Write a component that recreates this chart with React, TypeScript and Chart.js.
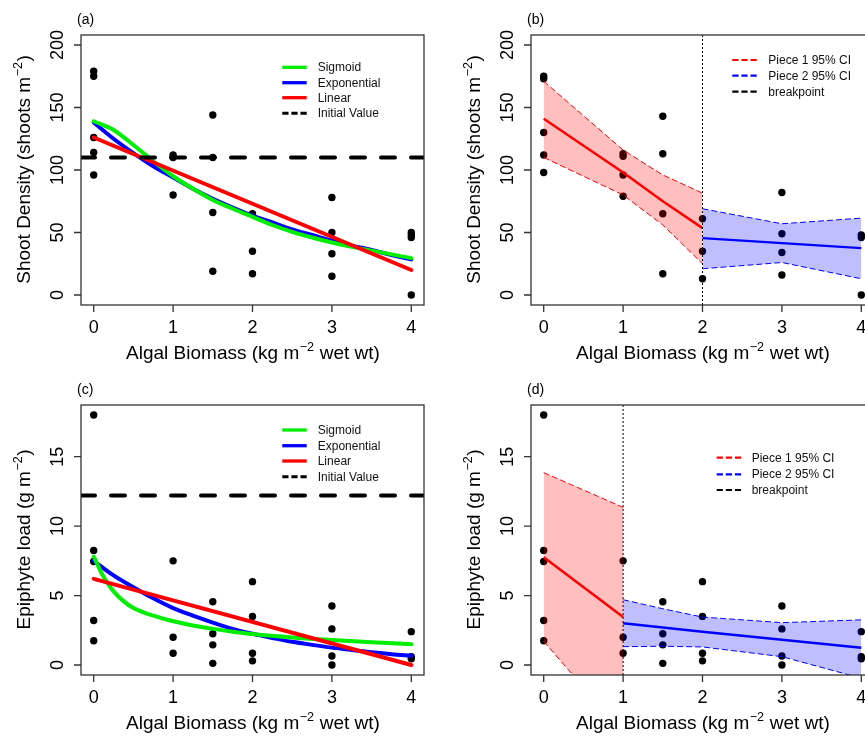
import { useEffect, useRef } from "react";
import { Chart, registerables } from "chart.js";

Chart.register(...registerables);

const FONT = '"Liberation Sans", Arial, Helvetica, sans-serif';
const RED = "#ff0000";
const BLUE = "#0000ff";
const GREEN = "#00ee00";
const RED_FILL = "rgba(255,0,0,0.25)";
const BLUE_FILL = "rgba(0,0,255,0.25)";

// Algal biomass axis (kg m^-2 wet wt)
const xTicks = [0, 1, 2, 3, 4];
const X_MIN = -0.16;
const X_MAX = 4.16;

// Shoot density axis
const shootTicks = [0, 50, 100, 150, 200];
const SHOOT_MIN = -8;
const SHOOT_MAX = 208;

// Epiphyte load axis
const epiTicks = [0, 5, 10, 15];
const EPI_MIN = -0.72;
const EPI_MAX = 18.72;

// Starting values before algal addition
const initialShoot = 110;
const initialEpi = 12.2;

// (a) observed shoot density
const shootObsX_a = [0, 0, 0, 0, 0, 1, 1, 1, 1.5, 1.5, 1.5, 1.5, 2, 2, 2, 3, 3, 3, 3, 4, 4, 4, 4];
const shootObsY_a = [179, 175, 126, 114, 96, 112, 110, 80, 144, 110, 66, 19, 65, 35, 17, 78, 50, 33, 15, 50, 48, 46, 0];

// (a) fitted curves
const curveX = [0, 0.25, 0.5, 0.75, 1, 1.25, 1.5, 1.75, 2, 2.25, 2.5, 2.75, 3, 3.25, 3.5, 3.75, 4];
const shootSigmoid = [139, 132, 120, 107, 95, 85, 76, 69, 62.5, 56, 50.5, 46, 42, 38.5, 35.5, 32.5, 29.5];
const shootExponential = [138, 125, 113.5, 103, 94, 85, 77, 70, 63.5, 58, 52.5, 48, 43.5, 39.5, 36, 32, 28.5];
const linearX = [0, 4];
const shootLinear = [126, 20];

// (b) observed shoot density
const shootObsX_b = [0, 0, 0, 0, 0, 1, 1, 1, 1, 1.5, 1.5, 1.5, 1.5, 2, 2, 2, 3, 3, 3, 3, 4, 4, 4];
const shootObsY_b = [175, 173, 130, 112, 98, 113, 111, 96, 79, 143, 113, 65, 17, 61, 35, 13, 82, 49, 34, 16, 48, 46, 0];

// (b) piecewise regression, breakpoint at 2
const shootBreak = 2;
const shootP1X = [0, 1, 1.5, 2];
const shootP1Fit = [141, 98, 75, 53.5];
const shootP1Upper = [171, 116, 96, 81.5];
const shootP1Lower = [110, 80, 56, 25];
const shootP2X = [2, 3, 4];
const shootP2Fit = [45.5, 41.5, 37.5];
const shootP2Upper = [69, 57, 61.5];
const shootP2Lower = [21, 26, 13];

// (c, d) observed epiphyte load
const epiObsX = [0, 0, 0, 0, 0, 1, 1, 1, 1.5, 1.5, 1.5, 1.5, 2, 2, 2, 2, 3, 3, 3, 3, 4, 4, 4];
const epiObsY = [18, 8.25, 7.45, 3.2, 1.75, 7.5, 2.0, 0.85, 4.55, 2.25, 1.45, 0.12, 6.0, 3.5, 0.85, 0.3, 4.25, 2.6, 0.65, 0, 2.4, 0.6, 0.45];

// (c) fitted curves
const epiSigmoidX = [0, 0.05, 0.1, 0.175, 0.25, 0.375, 0.5, 0.75, 1, 1.25, 1.5, 1.75, 2, 2.5, 3, 3.5, 4];
const epiSigmoid = [7.8, 7.2, 6.6, 5.9, 5.3, 4.6, 4.1, 3.55, 3.15, 2.85, 2.6, 2.4, 2.23, 1.98, 1.8, 1.64, 1.5];
const epiExponential = [7.5, 6.45, 5.6, 4.8, 4.1, 3.55, 3.05, 2.6, 2.25, 1.95, 1.67, 1.45, 1.25, 1.08, 0.92, 0.78, 0.67];
const epiLinear = [6.2, 0];

// (d) piecewise regression, breakpoint at 1
const epiBreak = 1;
const epiP1X = [0, 1];
const epiP1Fit = [7.75, 3.45];
const epiP1Upper = [13.85, 11.35];
const epiP1Lower = [1.7, -4.9];
const epiP2X = [1, 1.5, 2, 3, 4];
const epiP2Fit = [3.0, 2.7, 2.4, 1.82, 1.25];
const epiP2Upper = [4.7, 4.05, 3.45, 3.05, 3.25];
const epiP2Lower = [1.32, 1.35, 1.3, 0.6, -0.95];

const pts = (xs: number[], ys: number[]) => xs.map((x, i) => ({ x, y: ys[i] }));

type LegendItem = { label: string; color: string; dash: number[]; width: number };
type PanelSpec = {
  tag: string;
  yMin: number;
  yMax: number;
  yTicks: number[];
  yTitle: [string, string, string];
  datasets: any[];
  legend: LegendItem[];
  legendX: number;
  legendTextX: number;
  legendRows: number[];
  left: number;
  top: number;
};

const X_TITLE: [string, string, string] = ["Algal Biomass (kg m", "\u22122", " wet wt)"];
const SHOOT_TITLE: [string, string, string] = ["Shoot Density (shoots m", "\u22122", ")"];
const EPI_TITLE: [string, string, string] = ["Epiphyte load (g m", "\u22122", ")"];

const modelLegend: LegendItem[] = [
  { label: "Sigmoid", color: GREEN, dash: [], width: 3.3 },
  { label: "Exponential", color: BLUE, dash: [], width: 3.3 },
  { label: "Linear", color: RED, dash: [], width: 3.3 },
  { label: "Initial Value", color: "#000", dash: [6.2, 2.9], width: 3 },
];
const pieceLegend: LegendItem[] = [
  { label: "Piece 1 95% CI", color: RED, dash: [6.2, 2.9], width: 2.2 },
  { label: "Piece 2 95% CI", color: BLUE, dash: [6.2, 2.9], width: 2.2 },
  { label: "breakpoint", color: "#000", dash: [6.2, 2.9], width: 2.2 },
];

function observed(xs: number[], ys: number[]) {
  return {
    label: "Observed",
    data: pts(xs, ys),
    showLine: false,
    pointRadius: 3.7,
    pointBackgroundColor: "#000",
    pointBorderWidth: 0,
    order: 10,
  };
}

function curve(label: string, xs: number[], ys: number[], color: string, order: number, smooth: boolean) {
  return {
    label,
    data: pts(xs, ys),
    showLine: true,
    borderColor: color,
    borderWidth: 4,
    borderCapStyle: "round",
    borderJoinStyle: "round",
    pointRadius: 0,
    cubicInterpolationMode: smooth ? "monotone" : "default",
    tension: 0,
    order,
  };
}

function hline(value: number) {
  return {
    label: "Initial Value",
    data: pts([X_MIN, X_MAX], [value, value]),
    showLine: true,
    borderColor: "#000",
    borderWidth: 4,
    borderDash: [14, 16],
    borderCapStyle: "round",
    pointRadius: 0,
    clip: 0,
    order: 0,
  };
}

function vline(x: number, lo: number, hi: number) {
  return {
    label: "breakpoint",
    data: pts([x, x], [lo, hi]),
    showLine: true,
    borderColor: "#000",
    borderWidth: 1,
    borderDash: [2, 2],
    pointRadius: 0,
    clip: 0,
    order: 0,
  };
}

function piece(xs: number[], fit: number[], upper: number[], lower: number[], color: string, fill: string) {
  return [
    {
      label: "upper",
      data: pts(xs, upper),
      showLine: true,
      borderColor: color,
      borderWidth: 1,
      borderDash: [6, 3],
      backgroundColor: fill,
      fill: "+1",
      pointRadius: 0,
      clip: 0,
      order: 5,
    },
    {
      label: "lower",
      data: pts(xs, lower),
      showLine: true,
      borderColor: color,
      borderWidth: 1,
      borderDash: [6, 3],
      fill: false,
      pointRadius: 0,
      clip: 0,
      order: 4,
    },
    {
      label: "fit",
      data: pts(xs, fit),
      showLine: true,
      borderColor: color,
      borderWidth: 2.5,
      pointRadius: 0,
      clip: 0,
      order: 1,
    },
  ];
}

const panels: PanelSpec[] = [
  {
    tag: "(a)",
    yMin: SHOOT_MIN,
    yMax: SHOOT_MAX,
    yTicks: shootTicks,
    yTitle: SHOOT_TITLE,
    datasets: [
      hline(initialShoot),
      curve("Linear", linearX, shootLinear, RED, 1, false),
      curve("Sigmoid", curveX, shootSigmoid, GREEN, 2, true),
      curve("Exponential", curveX, shootExponential, BLUE, 3, true),
      observed(shootObsX_a, shootObsY_a),
    ],
    legend: modelLegend,
    legendX: 282.3,
    legendTextX: 317.7,
    legendRows: [67.3, 82.7, 97.7, 113.3],
    left: 0,
    top: 0,
  },
  {
    tag: "(b)",
    yMin: SHOOT_MIN,
    yMax: SHOOT_MAX,
    yTicks: shootTicks,
    yTitle: SHOOT_TITLE,
    datasets: [
      vline(shootBreak, SHOOT_MIN, SHOOT_MAX),
      ...piece(shootP1X, shootP1Fit, shootP1Upper, shootP1Lower, RED, RED_FILL),
      ...piece(shootP2X, shootP2Fit, shootP2Upper, shootP2Lower, BLUE, BLUE_FILL),
      observed(shootObsX_b, shootObsY_b),
    ],
    legend: pieceLegend,
    legendX: 282.3,
    legendTextX: 318.3,
    legendRows: [60, 75.7, 91.7],
    left: 450,
    top: 0,
  },
  {
    tag: "(c)",
    yMin: EPI_MIN,
    yMax: EPI_MAX,
    yTicks: epiTicks,
    yTitle: EPI_TITLE,
    datasets: [
      hline(initialEpi),
      curve("Linear", linearX, epiLinear, RED, 1, false),
      curve("Sigmoid", epiSigmoidX, epiSigmoid, GREEN, 2, true),
      curve("Exponential", curveX, epiExponential, BLUE, 3, true),
      observed(epiObsX, epiObsY),
    ],
    legend: modelLegend,
    legendX: 282.3,
    legendTextX: 317.7,
    legendRows: [60, 75.7, 91, 106.7],
    left: 0,
    top: 370,
  },
  {
    tag: "(d)",
    yMin: EPI_MIN,
    yMax: EPI_MAX,
    yTicks: epiTicks,
    yTitle: EPI_TITLE,
    datasets: [
      vline(epiBreak, EPI_MIN, EPI_MAX),
      ...piece(epiP1X, epiP1Fit, epiP1Upper, epiP1Lower, RED, RED_FILL),
      ...piece(epiP2X, epiP2Fit, epiP2Upper, epiP2Lower, BLUE, BLUE_FILL),
      observed(epiObsX, epiObsY),
    ],
    legend: pieceLegend,
    legendX: 266.7,
    legendTextX: 301.7,
    legendRows: [87.7, 104.3, 120],
    left: 450,
    top: 370,
  },
];

const CANVAS_W = 432;
const CANVAS_H = 366;

// Title with a raised "-2" exponent, centred on (0,0) of the current transform
function drawSupTitle(ctx: CanvasRenderingContext2D, parts: [string, string, string]) {
  const big = `19px ${FONT}`;
  const small = `12.5px ${FONT}`;
  ctx.font = big;
  const w1 = ctx.measureText(parts[0]).width;
  const w3 = ctx.measureText(parts[2]).width;
  ctx.font = small;
  const w2 = ctx.measureText(parts[1]).width;
  let x = -(w1 + w2 + w3) / 2;
  ctx.textAlign = "left";
  ctx.textBaseline = "alphabetic";
  ctx.font = big;
  ctx.fillText(parts[0], x, 0);
  x += w1;
  ctx.font = small;
  ctx.fillText(parts[1], x + 0.5, -8.5);
  x += w2 + 1;
  ctx.font = big;
  ctx.fillText(parts[2], x, 0);
}

function makeDecor(spec: PanelSpec) {
  return {
    id: "panelDecor",
    afterDatasetsDraw(chart: any) {
      const { ctx, chartArea: a, scales } = chart;
      const xs = scales.x;
      const ys = scales.y;
      ctx.save();
      ctx.setLineDash([]);
      ctx.strokeStyle = "#333";
      ctx.fillStyle = "#000";
      ctx.lineWidth = 1.3;
      ctx.strokeRect(a.left, a.top, a.right - a.left, a.bottom - a.top);

      // x axis ticks and labels
      ctx.beginPath();
      for (const v of xTicks) {
        const p = xs.getPixelForValue(v);
        ctx.moveTo(p, a.bottom);
        ctx.lineTo(p, a.bottom + 7);
      }
      ctx.stroke();
      ctx.font = `18px ${FONT}`;
      ctx.textAlign = "center";
      ctx.textBaseline = "alphabetic";
      for (const v of xTicks) {
        ctx.fillText(String(v), xs.getPixelForValue(v), a.bottom + 28.3);
      }

      // y axis ticks and rotated labels
      ctx.beginPath();
      for (const v of spec.yTicks) {
        const p = ys.getPixelForValue(v);
        ctx.moveTo(a.left, p);
        ctx.lineTo(a.left - 7, p);
      }
      ctx.stroke();
      for (const v of spec.yTicks) {
        ctx.save();
        ctx.translate(a.left - 17.7, ys.getPixelForValue(v));
        ctx.rotate(-Math.PI / 2);
        ctx.fillText(String(v), 0, 0);
        ctx.restore();
      }

      // axis titles
      ctx.save();
      ctx.translate((a.left + a.right) / 2, a.bottom + 54.3);
      drawSupTitle(ctx, X_TITLE);
      ctx.restore();
      ctx.save();
      ctx.translate(a.left - 51, (a.top + a.bottom) / 2);
      ctx.rotate(-Math.PI / 2);
      drawSupTitle(ctx, spec.yTitle);
      ctx.restore();

      // panel tag
      ctx.font = `14px ${FONT}`;
      ctx.textAlign = "left";
      ctx.fillText(spec.tag, a.left - 4, a.top - 11);

      // legend
      spec.legend.forEach((it, i) => {
        const y = spec.legendRows[i];
        ctx.strokeStyle = it.color;
        ctx.lineWidth = it.width;
        ctx.lineCap = "butt";
        ctx.setLineDash(it.dash);
        ctx.beginPath();
        ctx.moveTo(spec.legendX, y);
        ctx.lineTo(spec.legendX + 24.4, y);
        ctx.stroke();
        ctx.setLineDash([]);
        ctx.fillStyle = "#111";
        ctx.font = `12px ${FONT}`;
        ctx.textAlign = "left";
        ctx.fillText(it.label, spec.legendTextX, y + 3.8);
      });
      ctx.restore();
    },
  };
}

function Panel({ spec }: { spec: PanelSpec }) {
  const ref = useRef<HTMLCanvasElement | null>(null);
  useEffect(() => {
    if (!ref.current) return;
    const chart = new Chart(ref.current, {
      type: "scatter",
      data: { datasets: spec.datasets },
      options: {
        animation: false,
        responsive: false,
        devicePixelRatio: 1,
        events: [],
        layout: { padding: { left: 81, right: CANVAS_W - 424, top: 35, bottom: CANVAS_H - 305 } },
        scales: {
          x: { type: "linear", min: X_MIN, max: X_MAX, display: false },
          y: { type: "linear", min: spec.yMin, max: spec.yMax, display: false },
        },
        plugins: {
          legend: { display: false },
          tooltip: { enabled: false },
          title: { display: false },
        },
      } as any,
      plugins: [makeDecor(spec)],
    });
    return () => chart.destroy();
  }, [spec]);
  return (
    <canvas
      ref={ref}
      width={CANVAS_W}
      height={CANVAS_H}
      style={{ position: "absolute", left: spec.left, top: spec.top, width: CANVAS_W, height: CANVAS_H }}
    />
  );
}

export default function App() {
  return (
    <div
      style={{
        position: "absolute",
        left: 0,
        top: 0,
        width: 865,
        height: 736,
        overflow: "hidden",
        background: "#fff",
      }}
    >
      {panels.map((p) => (
        <Panel key={p.tag} spec={p} />
      ))}
    </div>
  );
}
